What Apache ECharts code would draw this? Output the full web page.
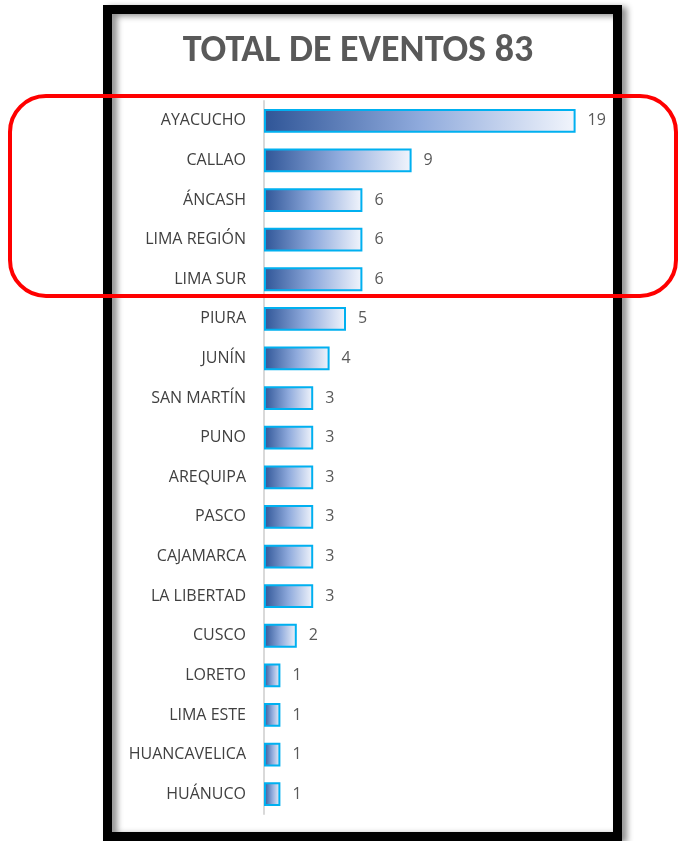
<!DOCTYPE html>
<html>
<head>
<meta charset="utf-8">
<script src="https://cdn.jsdelivr.net/npm/echarts@6/dist/echarts.min.js"></script>
<style>
html, body { margin: 0; padding: 0; background: #fff; }
#chart { width: 678px; height: 841px; }
</style>
</head>
<body>
<div id="chart"></div>
<script>
const regiones = ['AYACUCHO', 'CALLAO', 'ÁNCASH', 'LIMA REGIÓN', 'LIMA SUR', 'PIURA', 'JUNÍN', 'SAN MARTÍN', 'PUNO', 'AREQUIPA', 'PASCO', 'CAJAMARCA', 'LA LIBERTAD', 'CUSCO', 'LORETO', 'LIMA ESTE', 'HUANCAVELICA', 'HUÁNUCO']
const eventos = [19, 9, 6, 6, 6, 5, 4, 3, 3, 3, 3, 3, 3, 2, 1, 1, 1, 1]
const titulo = 'TOTAL DE EVENTOS 83'

const font = '"Open Sans", sans-serif'
const chart = echarts.init(document.getElementById('chart'))

chart.setOption({
  animation: false,
  title: {
    text: titulo,
    left: 353,
    top: 27,
    textAlign: 'center',
    textStyle: { color: '#595959', fontSize: 38, fontWeight: 'bold', fontFamily: 'Carlito, Lato, sans-serif' }
  },
  grid: { left: 264, top: 101, width: 328, height: 713, containLabel: false },
  xAxis: {
    type: 'value',
    min: 0,
    max: 20,
    show: false
  },
  yAxis: {
    type: 'category',
    data: regiones,
    inverse: true,
    axisTick: { show: false },
    axisLine: { lineStyle: { color: '#d9d9d9', width: 2 } },
    axisLabel: { color: '#404040', fontSize: 16, fontFamily: font, margin: 18 }
  },
  series: [{
    type: 'bar',
    data: eventos,
    barCategoryGap: '40%',
    itemStyle: {
      borderColor: '#00b0f0',
      borderWidth: 2,
      color: new echarts.graphic.LinearGradient(0, 0, 1, 0, [
        { offset: 0, color: '#2f5597' },
        { offset: 0.5, color: '#8faadc' },
        { offset: 1, color: '#f2f5fc' }
      ])
    },
    label: {
      show: true,
      position: 'right',
      distance: 12,
      color: '#595959',
      fontSize: 16,
      fontFamily: font
    }
  }],
  graphic: [
    {
      type: 'rect',
      z: 10,
      shape: { x: 107.5, y: 9.5, width: 510, height: 827 },
      style: {
        fill: null,
        stroke: '#000',
        lineWidth: 9,
        shadowBlur: 6,
        shadowOffsetX: 5,
        shadowOffsetY: 2,
        shadowColor: 'rgba(0,0,0,0.45)'
      }
    },
    {
      type: 'rect',
      z: 20,
      shape: { x: 10, y: 96, width: 666, height: 200, r: 36 },
      style: { fill: null, stroke: '#ff0000', lineWidth: 4 }
    }
  ]
})
</script>
</body>
</html>
